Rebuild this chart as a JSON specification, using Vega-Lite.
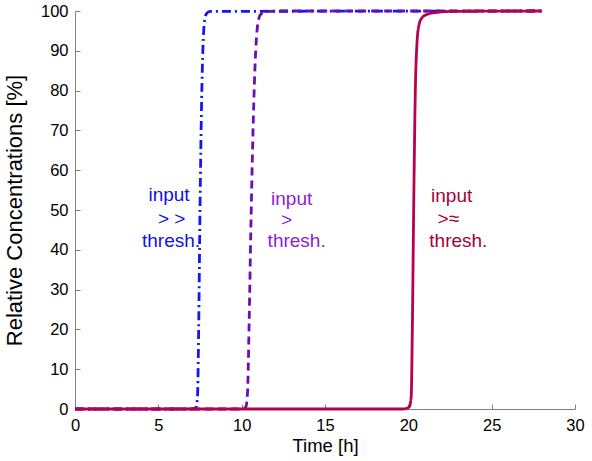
{
  "$schema": "https://vega.github.io/schema/vega-lite/v6.json",
  "width": 500,
  "height": 398,
  "autosize": "none",
  "padding": {"left": 75, "top": 11, "right": 17, "bottom": 52},
  "background": "white",
  "config": {
    "view": {"stroke": null},
    "font": "Liberation Sans",
    "axis": {
      "grid": false,
      "domainColor": "#7f7f7f",
      "tickColor": "#7f7f7f",
      "domainWidth": 1,
      "tickWidth": 1,
      "labelColor": "black",
      "titleColor": "black",
      "labelFont": "Liberation Sans",
      "titleFont": "Liberation Sans",
      "labelFontSize": 16.5,
      "labelFlush": false,
      "labelOverlap": false,
      "titleFontWeight": "normal"
    }
  },
  "datasets": {
    "curves": [
      {"t": 0, "c": 0, "s": "high"},
      {"t": 7.0, "c": 0, "s": "high"},
      {"t": 7.25, "c": 0.3, "s": "high"},
      {"t": 7.35, "c": 3, "s": "high"},
      {"t": 7.42, "c": 20, "s": "high"},
      {"t": 7.5, "c": 50, "s": "high"},
      {"t": 7.6, "c": 78, "s": "high"},
      {"t": 7.68, "c": 91, "s": "high"},
      {"t": 7.76, "c": 97, "s": "high"},
      {"t": 7.88, "c": 99.3, "s": "high"},
      {"t": 8.1, "c": 99.9, "s": "high"},
      {"t": 28, "c": 100, "s": "high"},
      {"t": 0, "c": 0, "s": "mid"},
      {"t": 10.0, "c": 0, "s": "mid"},
      {"t": 10.25, "c": 0.5, "s": "mid"},
      {"t": 10.35, "c": 4, "s": "mid"},
      {"t": 10.45, "c": 22, "s": "mid"},
      {"t": 10.55, "c": 45, "s": "mid"},
      {"t": 10.67, "c": 68, "s": "mid"},
      {"t": 10.8, "c": 86, "s": "mid"},
      {"t": 10.9, "c": 94, "s": "mid"},
      {"t": 11.0, "c": 97.5, "s": "mid"},
      {"t": 11.15, "c": 99.2, "s": "mid"},
      {"t": 11.5, "c": 99.8, "s": "mid"},
      {"t": 12.2, "c": 100, "s": "mid"},
      {"t": 28, "c": 100, "s": "mid"},
      {"t": 0, "c": 0, "s": "low"},
      {"t": 19.7, "c": 0, "s": "low"},
      {"t": 20.05, "c": 0.5, "s": "low"},
      {"t": 20.17, "c": 3, "s": "low"},
      {"t": 20.24, "c": 20, "s": "low"},
      {"t": 20.32, "c": 50, "s": "low"},
      {"t": 20.42, "c": 80, "s": "low"},
      {"t": 20.52, "c": 92, "s": "low"},
      {"t": 20.64, "c": 96.5, "s": "low"},
      {"t": 20.82, "c": 98.3, "s": "low"},
      {"t": 21.1, "c": 99.1, "s": "low"},
      {"t": 21.6, "c": 99.6, "s": "low"},
      {"t": 22.6, "c": 99.9, "s": "low"},
      {"t": 28, "c": 100, "s": "low"}
    ],
    "labels": [
      {"t": 5.64, "c": 52.2, "txt": "input", "s": "high"},
      {"t": 5.8, "c": 46.2, "txt": "> >", "s": "high"},
      {"t": 5.76, "c": 40.8, "txt": "thresh.", "s": "high"},
      {"t": 13.0, "c": 51.2, "txt": "input", "s": "mid"},
      {"t": 12.7, "c": 46.0, "txt": ">", "s": "mid"},
      {"t": 13.3, "c": 40.8, "txt": "thresh.", "s": "mid"},
      {"t": 22.6, "c": 52.0, "txt": "input", "s": "low"},
      {"t": 22.4, "c": 46.2, "txt": ">≈", "s": "low"},
      {"t": 23.0, "c": 40.8, "txt": "thresh.", "s": "low"}
    ]
  },
  "layer": [
    {
      "data": {"name": "curves"},
      "mark": {"type": "line", "strokeWidth": 2.8, "interpolate": "monotone"},
      "encoding": {
        "x": {
          "field": "t", "type": "quantitative",
          "scale": {"domain": [0, 30], "nice": false},
          "axis": {"values": [0, 5, 10, 15, 20, 25, 30], "title": "Time [h]", "titleFontSize": 18.5, "tickSize": -5, "labelPadding": 13, "titlePadding": 3, "labelOverlap": false}
        },
        "y": {
          "field": "c", "type": "quantitative",
          "scale": {"domain": [0, 100], "nice": false},
          "axis": {"values": [0, 10, 20, 30, 40, 50, 60, 70, 80, 90, 100], "tickCount": 11, "title": "Relative Concentrations [%]", "titleFontSize": 22, "tickSize": -5, "labelPadding": 12, "titlePadding": 14, "labelOverlap": false}
        },
        "color": {
          "field": "s", "type": "nominal", "legend": null,
          "scale": {"domain": ["high", "mid", "low"], "range": ["#1515f5", "#6a0fb0", "#b8004e"]}
        },
        "strokeDash": {
          "field": "s", "type": "nominal", "legend": null,
          "scale": {"domain": ["high", "mid", "low"], "range": [[9, 4, 2, 4], [8, 5], [1, 0]]}
        },
        "order": {"field": "t", "type": "quantitative"}
      }
    },
    {
      "data": {"name": "labels"},
      "mark": {"type": "text", "fontSize": 19, "align": "center", "baseline": "alphabetic", "font": "Liberation Sans"},
      "encoding": {
        "x": {"field": "t", "type": "quantitative"},
        "y": {"field": "c", "type": "quantitative"},
        "text": {"field": "txt"},
        "color": {
          "field": "s", "type": "nominal", "legend": null,
          "scale": {"domain": ["high", "mid", "low"], "range": ["#1010e8", "#8c22e0", "#a3003e"]}
        }
      }
    }
  ],
  "resolve": {"scale": {"color": "independent"}}
}
